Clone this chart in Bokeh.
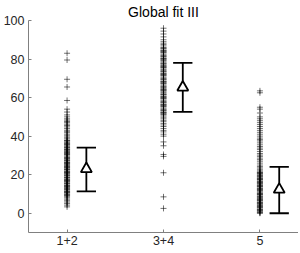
from bokeh.plotting import figure
from bokeh.models import FixedTicker, Range1d
from bokeh.embed import file_html
from bokeh.resources import INLINE

categories = ["1+2", "3+4", "5"]
cat_pos = [1, 2, 3]

g12 = [83, 79.5, 69.5, 65.5, 58.5, 54, 52.5, 51, 50, 49, 48.3, 47.6, 47, 46.2,
       45.5, 44.8, 44, 43.1, 42.5, 41.8, 41, 40.2, 39.5, 38.9, 38, 37.4, 36.8,
       36, 35.3, 34.7, 34, 33.4, 32.8, 32, 31.5, 30.9, 30.2, 29.6, 29, 28.4,
       27.8, 27.1, 26.5, 26, 25.3, 24.7, 24.1, 23.5, 23, 22.4, 21.8, 21.2, 20.6,
       20, 19.4, 18.8, 18.2, 17.6, 17, 16.4, 15.8, 15.2, 14.6, 14, 13.4, 12.8,
       12.2, 11.6, 11, 10.4, 9.8, 9.2, 8.6, 8, 7.3, 6.5, 5.8, 5, 4.2, 3.3,
       37.7, 35.6, 33.1, 31.2, 28.7, 26.2, 24.4, 22.7, 21.5, 19.7, 18.5, 16.7,
       15.5, 13.7, 12.5, 10.7, 9.5, 36.3, 34.2, 32.4, 30.5, 27.4, 25.7, 23.8,
       21, 17.3, 14.3, 11.3]

g34 = [96, 94.5, 93, 91.5, 90, 89, 88.2, 87.5, 86.8, 86, 85.3, 84.6, 84, 83.3,
       82.6, 82, 81.3, 80.6, 80, 79.3, 78.6, 78, 77.3, 76.6, 76, 75.3, 74.6, 74,
       73.3, 72.6, 72, 71.3, 70.6, 70, 69.3, 68.6, 68, 67.3, 66.6, 66, 65.3,
       64.6, 64, 63.3, 62.6, 62, 61.3, 60.6, 60, 59.3, 58.6, 58, 57.3, 56.6, 56,
       55.3, 54.6, 54, 53.3, 52.6, 52, 51.2, 50.5, 49.8, 49, 48.2, 47.5, 46.6,
       45.8, 45, 44, 43, 42.2, 41, 40, 37, 35, 30.5, 29.5, 21, 8.5, 2.5,
       85.6, 83.6, 81.6, 79.6, 77.6, 75.6, 73.6, 71.6, 69.6, 67.6, 65.6, 63.6,
       61.6, 59.6, 57.6, 55.6, 53.6, 51.6, 84.3, 80.3, 76.3, 72.3, 68.3, 64.3,
       60.3, 56.3, 52.3]

g5 = [63.5, 62.5, 55, 54, 52, 50, 49, 48, 47, 46, 45, 44, 43, 42, 41, 40,
      39, 38.2, 37.5, 36.5, 35.5, 34.6, 33.8, 33, 32, 31, 30.2, 29.5, 28.6,
      27.8, 27, 26, 25, 24.2, 23.5, 22.8, 22, 21.4, 20.8, 20.2, 19.6, 19, 18.4,
      17.8, 17.2, 16.6, 16, 15.4, 14.8, 14.2, 13.6, 13, 12.4, 11.8, 11.2, 10.6,
      10, 9.4, 8.8, 8.2, 7.6, 7, 6.4, 5.8, 5.2, 4.6, 4, 3.4, 2.8, 2.2, 1.6, 1,
      0.5, 0, 21.1, 19.3, 17.5, 15.7, 13.9, 12.1, 10.3, 8.5, 6.7, 4.9, 3.1,
      1.3, 0.2, 20.5, 18.1, 16.3, 14.5, 12.7, 9.7, 7.3, 5.5, 3.7, 1.9]

means = [23, 65.3, 12.3]
err_low = [11.3, 52.6, 0]
err_high = [34, 78, 24]
err_offset = 0.2

FONT = "Liberation Sans"

p = figure(frame_width=270, frame_height=212, output_backend="svg",
           toolbar_location=None,
           x_range=Range1d(0.6, 3.4), y_range=Range1d(-10, 100),
           title="Global fit III", min_border_left=0, min_border_right=0,
           min_border_top=0, min_border_bottom=0)
p.title.align = "center"
p.title.text_font = FONT
p.title.text_font_size = "14px"
p.title.text_font_style = "normal"
p.title.text_color = "#000000"
p.title.offset = 0
p.title.standoff = 2

p.outline_line_color = None
p.grid.visible = False
p.background_fill_color = "white"
p.border_fill_color = "white"

for ax in (p.xaxis[0], p.yaxis[0]):
    ax.axis_line_color = "#808080"
    ax.major_tick_line_color = "#808080"
    ax.major_tick_in = 3
    ax.major_tick_out = 0
    ax.minor_tick_line_color = None
    ax.major_label_text_font = FONT
    ax.major_label_text_font_size = "12.5px"
    ax.major_label_text_color = "#262626"
    ax.major_label_standoff = 4

p.xaxis.major_label_standoff = 3
p.xaxis.ticker = FixedTicker(ticks=cat_pos)
p.xaxis.major_label_overrides = {c: lab for c, lab in zip(cat_pos, categories)}
p.yaxis.ticker = FixedTicker(ticks=[0, 20, 40, 60, 80, 100])

for xpos, vals in zip(cat_pos, [g12, g34, g5]):
    p.scatter([xpos] * len(vals), vals, marker="cross", size=6,
              line_color="black", line_alpha=0.55, line_width=1)

ex = [c + err_offset for c in cat_pos]
p.segment(ex, err_low, ex, err_high, line_color="black", line_width=1.8)
p.segment([x - 0.1 for x in ex], err_low, [x + 0.1 for x in ex], err_low,
          line_color="black", line_width=1.8)
p.segment([x - 0.1 for x in ex], err_high, [x + 0.1 for x in ex], err_high,
          line_color="black", line_width=1.8)
p.scatter(ex, means, marker="triangle", size=11, fill_color="white",
          line_color="black", line_width=1.8)

open("out.html", "w").write(file_html(p, INLINE))
